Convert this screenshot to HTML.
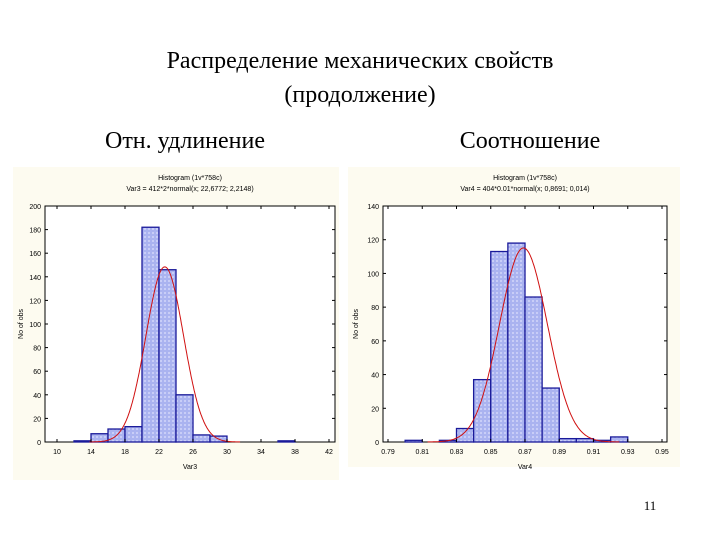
<!DOCTYPE html>
<html><head><meta charset="utf-8">
<style>
body{margin:0;width:720px;height:540px;background:#fff;overflow:hidden;position:relative;font-family:"Liberation Serif",serif;}
.t{position:absolute;text-align:center;color:#000;}
</style></head>
<body>
<div class="t" style="left:0;width:720px;top:44px;font-size:24px;line-height:34px;">Распределение механических свойств<br>(продолжение)</div>
<div class="t" style="left:60px;width:250px;top:128px;font-size:24px;">Отн. удлинение</div>
<div class="t" style="left:405px;width:250px;top:128px;font-size:24px;">Соотношение</div>
<div class="t" style="left:630px;width:40px;top:498px;font-size:13px;">11</div>
<svg id="svg" width="720" height="540" style="position:absolute;left:0;top:0"></svg>
<script>
// Chart 1 data
const c1Edges = [12,14,16,18,20,22,24,26,28,36];
const c1Counts = [1,7,11,13,182,146,40,6,5,1];
const c1XTicks = [10,14,18,22,26,30,34,38,42];
const c1YTicks = [0,20,40,60,80,100,120,140,160,180,200];
const c1Mean = 22.6772, c1Sd = 2.2148, c1N = 412, c1W = 2;
// Chart 2 data
const c2Edges = [0.80,0.82,0.83,0.84,0.85,0.86,0.87,0.88,0.89,0.90,0.91,0.92];
const c2Counts = [1,1,8,37,113,118,86,32,2,2,1,3];
const c2XTicks = ["0.79","0.81","0.83","0.85","0.87","0.89","0.91","0.93","0.95"];
const c2YTicks = [0,20,40,60,80,100,120,140];
const c2Mean = 0.8691, c2Sd = 0.014, c2N = 404, c2W = 0.01;

const NS="http://www.w3.org/2000/svg";
const svg=document.getElementById('svg');
function mk(tag,attrs,parent){const e=document.createElementNS(NS,tag);for(const k in attrs)e.setAttribute(k,attrs[k]);(parent||svg).appendChild(e);return e;}
const defs=mk('defs',{});
const pat=mk('pattern',{id:'pt',width:4,height:4,patternUnits:'userSpaceOnUse'},defs);
mk('rect',{width:4,height:4,fill:'#aab3f0'},pat);
mk('rect',{x:0,y:0,width:2,height:2,fill:'#c8cdf7'},pat);

function chart(o){
  const g=mk('g',{});
  
  
  const bg=mk('rect',{x:o.px,y:o.py,width:o.pw,height:o.ph,fill:'#fdfbf0'},g);
  
  
  const pa=mk('rect',{x:o.L,y:o.T,width:o.R-o.L,height:o.B-o.T,fill:'#fff',stroke:'#000','stroke-width':1},g);
  
  
  const xs=v=>o.x0px+(v-o.xmin)/(o.xmax-o.xmin)*(o.x1px-o.x0px);
  const ys=v=>o.B-(v/o.ymax)*(o.B-o.T);
  o.counts.forEach((c,i)=>{
    const x=xs(o.edges[i]),x2=xs(o.edges[i]+o.w);
    const r=mk('rect',{x:x,y:ys(c),width:x2-x,height:o.B-ys(c),fill:'url(#pt)',stroke:'#1a1a9a','stroke-width':1.3},g);
    
    
  });
  let d='';
  const peak=o.n*o.w/(o.sd*Math.sqrt(2*Math.PI));
  for(let k=0;k<=200;k++){
    const v=o.mean-4*o.sd+8*o.sd*k/200;
    const y=peak*Math.exp(-0.5*Math.pow((v-o.mean)/o.sd,2));
    d+=(k?'L':'M')+xs(v).toFixed(1)+','+ys(y).toFixed(1);
  }
  const p=mk('path',{d:d,fill:'none',stroke:'#d01010','stroke-width':1},g);
  
  
  o.yticks.forEach(v=>{
    const y=ys(v);
    mk('line',{x1:o.L,x2:o.L+3,y1:y,y2:y,stroke:'#000'},g);
    mk('line',{x1:o.R,x2:o.R-3,y1:y,y2:y,stroke:'#000'},g);
    const t=mk('text',{x:o.L-4,y:y+3,'font-size':7,'text-anchor':'end','font-family':'Liberation Sans, sans-serif'},g);
    t.textContent=v;
    
    
  });
  o.xticks.forEach(v=>{
    const x=xs(parseFloat(v));
    mk('line',{x1:x,x2:x,y1:o.B,y2:o.B-3,stroke:'#000'},g);
    mk('line',{x1:x,x2:x,y1:o.T,y2:o.T+3,stroke:'#000'},g);
    const t=mk('text',{x:x,y:o.B+12,'font-size':7,'text-anchor':'middle','font-family':'Liberation Sans, sans-serif'},g);
    t.textContent=v;
    
    
  });
  const h1=mk('text',{x:(o.L+o.R)/2,y:o.py+13,'font-size':7,'text-anchor':'middle','font-family':'Liberation Sans, sans-serif'},g);
  h1.textContent=o.h1;
  
  
  const h2=mk('text',{x:(o.L+o.R)/2,y:o.py+24,'font-size':7,'text-anchor':'middle','font-family':'Liberation Sans, sans-serif'},g);
  h2.textContent=o.h2;
  
  
  const yl=mk('text',{x:0,y:0,'font-size':7,'text-anchor':'middle','font-family':'Liberation Sans, sans-serif',transform:'translate('+(o.px+10)+','+((o.T+o.B)/2)+') rotate(-90)'},g);
  yl.textContent='No of obs';
  
  
  const xl=mk('text',{x:(o.L+o.R)/2,y:o.B+27,'font-size':7,'text-anchor':'middle','font-family':'Liberation Sans, sans-serif'},g);
  xl.textContent=o.xlabel;
  
  
}
chart({name:'histogram-elongation',px:13,py:167,pw:326,ph:313,L:45,R:335,T:206,B:442,
  xmin:10,xmax:42,x0px:57,x1px:329,ymax:200,edges:c1Edges,counts:c1Counts,w:c1W,
  mean:c1Mean,sd:c1Sd,n:c1N,xticks:c1XTicks.map(String),yticks:c1YTicks,
  h1:"Histogram (1v*758c)",h2:"Var3 = 412*2*normal(x; 22,6772; 2,2148)",xlabel:"Var3"});
chart({name:'histogram-ratio',px:348,py:167,pw:332,ph:300,L:383,R:667,T:206,B:442,
  xmin:0.79,xmax:0.95,x0px:388,x1px:662,ymax:140,edges:c2Edges,counts:c2Counts,w:c2W,
  mean:c2Mean,sd:c2Sd,n:c2N,xticks:c2XTicks,yticks:c2YTicks,
  h1:"Histogram (1v*758c)",h2:"Var4 = 404*0.01*normal(x; 0,8691; 0,014)",xlabel:"Var4"});
</script>
</body></html>
